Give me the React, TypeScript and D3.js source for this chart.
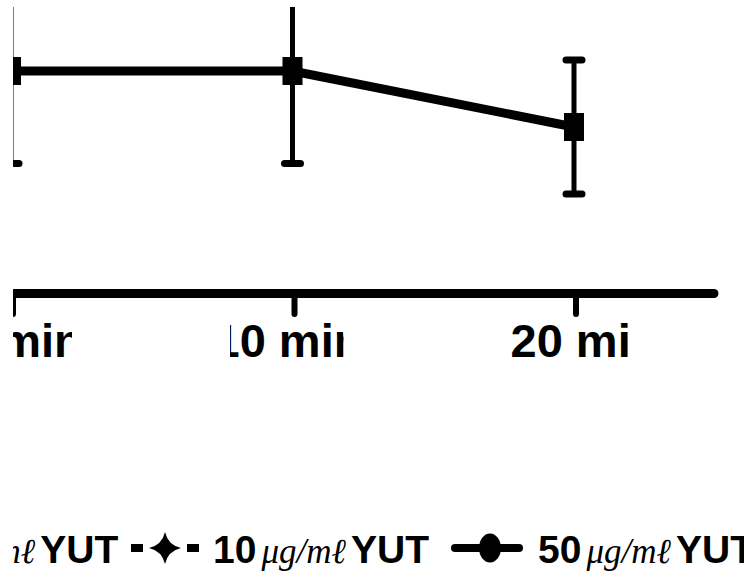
import React from 'react';
import * as d3 from 'd3';

// time points (x axis) and the visible series
const categories = ['0 min', '10 min', '20 min'];
const means = [2.225, 2.225, 1.665];
const errors = [0.925, 0.925, 0.67];

// legend entries: dose, symbol
const legendDoses = ['0', '10', '50'];
const legendSymbols = ['square', 'diamond', 'circle'];

const W = 744;
const H = 571;

export default function App() {
    const x = d3.scalePoint<string>().domain(categories).range([11, 574]);
    const y = d3.scaleLinear().domain([0, 3]).range([293.5, -6.5]);

    const pts = categories.map((c, i) => ({ c, m: means[i], e: errors[i] }));
    const line = d3
        .line<{ c: string; m: number }>()
        .x((d) => x(d.c) as number)
        .y((d) => y(d.m));

    // label start offsets and visible windows of each tick label (relative to the point)
    const labelShift = [-51, -79, -63.5];
    const labelWin = [
        [2, 61],
        [-62.5, 51],
        [-120, 59],
    ];
    const legendX = [-159, 130, 455];
    const legendY = 548;
    const font = '"Liberation Sans", Arial, sans-serif';

    const symbol = (kind: string, x0: number) => {
        if (kind === 'diamond') {
            const cx = x0 + 35;
            return (
                <g>
                    <line x1={x0 + 1} x2={x0 + 69} y1={legendY} y2={legendY} stroke="#000" strokeWidth={8} strokeDasharray="12 44 12" />
                    <path d={`M${cx},${legendY - 16} Q${cx + 3},${legendY - 3} ${cx + 16},${legendY} Q${cx + 3},${legendY + 3} ${cx},${legendY + 16} Q${cx - 3},${legendY + 3} ${cx - 16},${legendY} Q${cx - 3},${legendY - 3} ${cx},${legendY - 16}Z`} fill="#000" />
                </g>
            );
        }
        if (kind === 'circle') {
            return (
                <g>
                    <line x1={x0} x2={x0 + 64} y1={legendY} y2={legendY} stroke="#000" strokeWidth={8} strokeLinecap="round" />
                    <ellipse cx={x0 + 35} cy={legendY} rx={11} ry={14.5} fill="#000" />
                </g>
            );
        }
        return (
            <g>
                <line x1={x0} x2={x0 + 70} y1={legendY} y2={legendY} stroke="#000" strokeWidth={8} />
                <rect x={x0 + 25} y={legendY - 14} width={20} height={28} fill="#000" />
            </g>
        );
    };

    return (
        <svg width={W} height={H} style={{ position: 'absolute', left: 0, top: 0, background: '#fff' }}>
            <defs>
                <clipPath id="frame">
                    <rect x={13} y={7} width={W} height={H} />
                </clipPath>
                {categories.map((c, i) => (
                    <clipPath id={'lab' + i} key={c}>
                        <rect x={(x(c) as number) + labelWin[i][0]} y={300} width={labelWin[i][1] - labelWin[i][0]} height={80} />
                    </clipPath>
                ))}
            </defs>
            <g clipPath="url(#frame)">
                {/* x axis */}
                <line x1={0} x2={714} y1={293.5} y2={293.5} stroke="#000" strokeWidth={9} strokeLinecap="round" />
                {categories.map((c) => (
                    <line key={c} x1={(x(c) as number) + 2} x2={(x(c) as number) + 2} y1={296} y2={314} stroke="#000" strokeWidth={6} strokeLinecap="round" />
                ))}
                {categories.map((c, i) => (
                    <g key={c} clipPath={`url(#lab${i})`}>
                        <text x={(x(c) as number) + labelShift[i]} y={357} fontFamily={font} fontWeight="bold" fontSize={47} fill="#000">
                            {c}
                        </text>
                    </g>
                ))}

                {/* error bars */}
                {pts.map((d) => {
                    const cx = x(d.c) as number;
                    return (
                        <g key={d.c}>
                            <line x1={cx} x2={cx} y1={y(d.m + d.e)} y2={y(d.m - d.e)} stroke="#000" strokeWidth={5} />
                            <line x1={cx - 8} x2={cx + 8} y1={y(d.m + d.e)} y2={y(d.m + d.e)} stroke="#000" strokeWidth={7} strokeLinecap="round" />
                            <line x1={cx - 8} x2={cx + 8} y1={y(d.m - d.e)} y2={y(d.m - d.e)} stroke="#000" strokeWidth={7} strokeLinecap="round" />
                        </g>
                    );
                })}
                <path d={line(pts) || ''} fill="none" stroke="#000" strokeWidth={9} />
                {pts.map((d) => (
                    <rect key={d.c} x={(x(d.c) as number) - 10} y={y(d.m) - 14} width={20} height={28} fill="#000" />
                ))}

                {/* legend */}
                {legendDoses.map((dose, i) => (
                    <g key={dose}>
                        {symbol(legendSymbols[i], legendX[i])}
                        <text x={legendX[i] + 83} y={563} fontFamily={font} fontWeight="bold" fontSize={39} fill="#000">
                            <tspan>{dose}</tspan>
                            <tspan dx={5} fontFamily='"Liberation Serif", serif' fontStyle="italic" fontWeight="normal" fontSize={35}>
                                μg/mℓ
                            </tspan>
                            <tspan dx={5}>YUT</tspan>
                        </text>
                    </g>
                ))}
            </g>
        </svg>
    );
}
